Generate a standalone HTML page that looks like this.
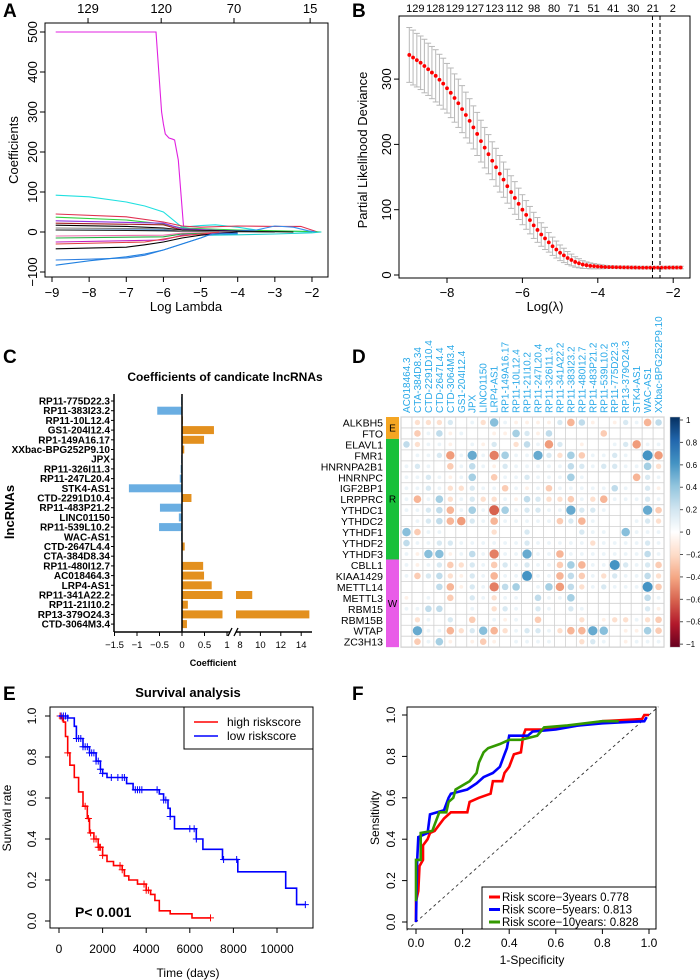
<!DOCTYPE html>
<html><head><meta charset="utf-8"><style>
html,body{margin:0;padding:0;background:#fff;}
svg{display:block;font-family:"Liberation Sans",Arial,sans-serif;}
</style></head><body>
<svg id="fig" width="700" height="980" viewBox="0 0 700 980" xmlns="http://www.w3.org/2000/svg">
<rect width="700" height="980" fill="#fff"/>
<text x="3" y="17" font-size="19" font-weight="bold">A</text>
<text x="352" y="17" font-size="19" font-weight="bold">B</text>
<text x="3" y="363" font-size="19" font-weight="bold">C</text>
<text x="352" y="363" font-size="19" font-weight="bold">D</text>
<text x="3" y="700" font-size="19" font-weight="bold">E</text>
<text x="352" y="700" font-size="19" font-weight="bold">F</text>
<!-- A -->
<rect x="45" y="23" width="283" height="254" fill="none" stroke="#000"/>
<text x="186" y="311" font-size="13" text-anchor="middle">Log Lambda</text>
<text transform="translate(18,150) rotate(-90)" font-size="13" text-anchor="middle">Coefficients</text>
<!-- B -->
<rect x="399" y="16" width="291" height="262" fill="none" stroke="#000"/>
<text x="545" y="311" font-size="13" text-anchor="middle">Log(λ)</text>
<text transform="translate(367,150) rotate(-90)" font-size="13" text-anchor="middle">Partial Likelihood Deviance</text>
<!-- C -->
<text x="225" y="381" font-size="12" font-weight="bold" text-anchor="middle">Coefficients of candicate lncRNAs</text>
<text x="213" y="666" font-size="9" font-weight="bold" text-anchor="middle">Coefficient</text>
<text transform="translate(14,512) rotate(-90)" font-size="13" font-weight="bold" text-anchor="middle">lncRNAs</text>
<!-- E -->
<rect x="50" y="707" width="263" height="221" fill="none" stroke="#000"/>
<text x="188" y="697" font-size="13" font-weight="bold" text-anchor="middle">Survival analysis</text>
<text x="188" y="977" font-size="12" text-anchor="middle">Time (days)</text>
<text transform="translate(11,818) rotate(-90)" font-size="12" text-anchor="middle">Survival rate</text>
<text x="75" y="917" font-size="14" font-weight="bold">P&lt; 0.001</text>
<!-- F -->
<rect x="407" y="707" width="249" height="222" fill="none" stroke="#000"/>
<text x="532" y="964" font-size="12" text-anchor="middle">1-Specificity</text>
<text transform="translate(379,818) rotate(-90)" font-size="12" text-anchor="middle">Sensitivity</text>
</svg>
<script>
// ---------- Panel A data ----------
const aTopLabels=["129","120","70","15"];
const aTopLambda=[-8.03,-6.06,-4.1,-2.05];
const aXTicks=[-9,-8,-7,-6,-5,-4,-3,-2];
const aYTicks=[-100,0,100,200,300,400,500];
const aColors=["#e020e0","#20e0e0","#e03050","#30d040","#3090f0","#9030e0","#a02020","#000000","#202020","#808080","#f070b0","#20b040","#c020c0","#e04040","#000000","#3080e0","#2080e0","#20d0d0"];
const aLineX=[
[-8.9,-6.2,-6.05,-6.0,-5.95,-5.85,-5.75,-5.7,-5.6,-5.45],
[-8.9,-8,-7,-6.5,-6,-5.5,-5,-4.6,-4,-3.5,-3,-2.5,-2],
[-8.9,-7,-6,-5.5,-5,-4,-3,-2.3,-1.85],
[-8.9,-7,-6,-5.5,-4,-2,-1.75],
[-8.9,-6,-5,-4,-3.5,-3,-2.5,-2.1,-1.9],
[-8.9,-6,-5.5,-4],
[-8.9,-6,-5.5,-4],
[-8.9,-7,-6,-5.5,-4,-2.5],
[-8.9,-7,-6,-5.5,-4.5,-3],
[-8.9,-6,-5.5,-4],
[-8.9,-6,-5.5,-4],
[-8.9,-6,-5.5,-4],
[-8.9,-6,-5.5,-4],
[-8.9,-6.5,-5.5,-4.5],
[-8.9,-7,-6.5,-6,-5.5,-5,-4],
[-8.9,-8,-7,-6.5,-6,-5.5,-5,-4.7,-4],
[-8.9,-8,-7,-6.5,-6,-5.5,-5,-4.8,-4],
[-4.7,-4,-3,-2,-1.75]];
const aLineY=[
[500,500,300,270,245,235,232,230,180,5],
[92,88,75,65,50,12,16,18,12,5,2,1,0],
[45,38,25,15,12,15,14,14,0],
[37,30,20,10,5,1,0],
[5,5,4,3,5,15,12,3,0],
[28,22,8,2],
[22,18,5,1],
[17,14,10,5,2,0],
[5,4,3,2,1,0],
[10,8,3,0],
[-10,-8,-3,0],
[-15,-12,-5,0],
[-25,-20,-8,0],
[-30,-25,-10,0],
[-42,-38,-32,-25,-15,-8,0],
[-70,-68,-65,-58,-45,-30,-15,-5,-3],
[-83,-72,-62,-55,-45,-30,-15,-8,-5],
[-8,-7,-5,-2,0]];

// ---------- Panel B data ----------
const bTopLabels=["129","128","129","127","123","112","98","80","71","51","41","30","21","2"];
const bTopLambda=[-8.84,-8.31,-7.79,-7.26,-6.74,-6.21,-5.69,-5.16,-4.64,-4.11,-3.59,-3.06,-2.54,-2.01];
const bXTicks=[-8,-6,-4,-2];
const bYTicks=[0,100,200,300];
const bLambdaStart=-9.0, bLambdaStep=0.1;
const bMean=[337,333,329,325,320,315,310,305,299,293,286,279,271,263,254,245,236,226,216,205,195,185,175,165,155,146,136,127,118,109,100,92,84,76,69,62,56,50,44,39,34,30,26,23,20,18,16,15,14,13.5,13,12.6,12.3,12.1,12,11.9,11.8,11.7,11.6,11.5,11.4,11.3,11.2,11.2,11.2,11.2,11.3,11.3,11.3,11.4,11.4,11.4,11.4];
const bSE=[42,42,41,41,41,40,40,40,39,39,38,38,37,37,36,35,34,33,33,32,31,30,29,29,28,27,26,25,25,24,23,22,21,20,19,18,17,15,14,13,12,11,10,9,8,7,6,5,4.5,4,3.5,3,2.5,2.2,2,2,2,2,2,2,2,2,2,2,2,2,2,2,2,2,2,2,2];
const bVLines=[-2.55,-2.35];

// ---------- Panel C data ----------
const cNames=["RP11-775D22.3","RP11-383I23.2","RP11-10L12.4","GS1-204I12.4","RP1-149A16.17","XXbac-BPG252P9.10","JPX","RP11-326I11.3","RP11-247L20.4","STK4-AS1","CTD-2291D10.4","RP11-483P21.2","LINC01150","RP11-539L10.2","WAC-AS1","CTD-2647L4.4","CTA-384D8.34","RP11-480I12.7","AC018464.3","LRP4-AS1","RP11-341A22.2","RP11-21I10.2","RP13-379O24.3","CTD-3064M3.4"];
const cValues=[-0.02,-0.55,0.02,0.71,0.49,0.05,-0.02,-0.03,-0.05,-1.18,0.21,-0.49,-0.07,-0.51,-0.02,0.06,-0.01,0.47,0.49,0.66,9.2,0.13,14.8,0.11];
const cTicksLeft=[-1.5,-1,-0.5,0,0.5,1];
const cTicksRight=[8,10,12,14];

// ---------- Panel D data ----------
const dCols=["AC018464.3","CTA-384D8.34","CTD-2291D10.4","CTD-2647L4.4","CTD-3064M3.4","GS1-204I12.4","JPX","LINC01150","LRP4-AS1","RP1-149A16.17","RP11-10L12.4","RP11-21I10.2","RP11-247L20.4","RP11-326I11.3","RP11-341A22.2","RP11-383I23.2","RP11-480I12.7","RP11-483P21.2","RP11-539L10.2","RP11-775D22.3","RP13-379O24.3","STK4-AS1","WAC-AS1","XXbac-BPG252P9.10"];
const dRows=["ALKBH5","FTO","ELAVL1","FMR1","HNRNPA2B1","HNRNPC","IGF2BP1","LRPPRC","YTHDC1","YTHDC2","YTHDF1","YTHDF2","YTHDF3","CBLL1","KIAA1429","METTL14","METTL3","RBM15","RBM15B","WTAP","ZC3H13"];
const dGroups=["E","R","W"];
const dGroupSizes=[2,11,8];
const dCorr=[
[0,-.1,-.1,-.1,.1,0,.05,-.1,.25,.05,-.05,-.05,-.05,-.05,.1,-.2,.15,-.05,0,-.05,.1,.05,-.2,.15],
[0,-.15,.05,.15,-.05,.05,0,0,-.05,-.05,.2,.1,-.05,.15,0,0,0,0,-.15,0,0,0,0,0],
[.15,-.1,.05,.05,-.05,0,.05,-.05,.1,0,-.1,.15,.05,-.25,.1,0,-.05,0,0,.05,.1,-.25,.05,.05],
[0,.05,.05,.1,-.25,.05,.3,.05,-.3,.2,.05,.05,.3,.1,-.1,.2,-.15,.05,.05,.1,.05,0,.35,-.25],
[.05,.1,.05,0,-.15,.05,.15,.05,-.05,.1,.05,.05,.05,.05,.05,.15,.1,.05,.1,.1,.05,.05,.2,-.1],
[.05,.05,.1,.05,-.05,.05,.2,0,-.15,.05,.05,.1,.05,.05,.05,.2,.05,0,0,0,0,-.2,.1,.05],
[.05,.05,.1,.05,-.1,-.1,.1,.05,.05,-.15,.05,-.05,.05,-.15,.05,.05,.05,.05,.05,.15,.05,0,.1,-.05],
[.05,-.2,.05,.2,-.1,.05,.1,-.1,-.1,.05,-.05,.15,.1,-.1,-.1,-.15,.05,-.1,-.2,.05,.05,.05,.1,.05],
[.05,.05,.1,.15,-.2,.05,.2,.05,-.35,.2,.05,.1,.1,.05,.05,.3,.1,.1,.05,0,0,0,.3,-.15],
[0,.05,.1,.15,-.2,-.25,.1,.05,-.2,.05,.05,.05,.05,.05,-.15,.1,-.2,.05,0,0,0,.05,.1,-.1],
[.25,-.15,.05,.05,0,0,0,0,-.1,0,0,.1,0,0,0,0,.1,.05,.05,0,.25,.05,.05,.05],
[.15,.05,.05,.1,.1,.05,.05,.05,.05,.05,.05,.1,.05,.05,.05,.05,.05,-.1,.05,.05,.05,.05,.1,.05],
[.05,-.05,.25,.25,-.05,.05,.15,.05,-.3,.05,.05,.3,.05,.05,-.2,.05,.05,.05,.05,.05,.05,.05,.15,.05],
[.05,-.05,.05,.1,-.15,-.1,.1,.05,-.15,.1,.05,.1,.05,.05,-.15,.2,-.2,.05,.05,.35,.1,.05,.1,-.15],
[.05,-.15,.1,.15,-.1,-.05,.1,.05,-.2,.05,.05,.35,.05,.05,-.2,.15,-.15,.05,-.1,.1,.05,.05,.15,-.1],
[0,0,0,.15,-.2,-.05,.1,.05,-.3,.15,.2,0,.05,.2,-.25,.15,-.1,.05,.1,.05,.05,.05,.35,-.15],
[-.05,0,.05,0,-.15,0,.1,.05,-.1,.05,.05,0,.15,.05,.05,.2,0,0,0,0,0,0,.15,.05],
[.05,.05,.15,.15,0,0,.05,0,-.1,.1,.05,0,.1,.05,0,.1,.05,0,0,0,0,0,.1,-.05],
[0,-.1,.05,0,.1,0,-.15,0,.05,-.05,.05,0,-.15,0,0,0,-.1,0,-.05,-.1,-.1,.05,-.1,-.15],
[0,.3,.05,.05,-.2,-.1,.1,.25,-.2,-.1,.05,.1,.1,.05,-.1,-.2,-.2,.3,.25,0,-.05,-.05,.2,-.15],
[0,-.15,.05,.2,-.05,0,-.05,-.15,-.05,0,.05,.05,.05,.05,0,0,-.1,.1,.05,0,-.05,.05,.05,.05]];
const dBarTicks=[1,0.8,0.6,0.4,0.2,0,-0.2,-0.4,-0.6,-0.8,-1];

// ---------- Panel E data ----------
const eHighT=[0,100,200,300,400,500,700,900,1100,1300,1400,1600,1800,2000,2200,2500,2900,3000,3200,3600,4000,4200,4400,4600,5100,6100,6950];
const eHighS=[1,0.99,0.97,0.9,0.82,0.76,0.7,0.63,0.56,0.5,0.43,0.4,0.36,0.32,0.29,0.27,0.25,0.22,0.2,0.18,0.15,0.13,0.1,0.05,0.035,0.015,0.015];
const eLowT=[0,400,700,800,1100,1400,1700,1900,2000,2200,3100,3400,4600,4800,5000,5100,5300,6300,6600,7500,8200,10400,10900,11300];
const eLowS=[1,0.99,0.95,0.89,0.85,0.82,0.78,0.74,0.72,0.7,0.67,0.64,0.62,0.59,0.55,0.51,0.45,0.4,0.35,0.3,0.24,0.16,0.08,0.08];
const eHighCens=[50,150,400,1200,1350,1450,1600,1700,1800,1850,1900,2000,2800,2900,3900,4000,4100,6950];
const eLowCens=[100,200,300,400,800,900,1000,1100,1200,1300,1400,1500,1600,1700,1800,1900,2000,2400,2700,2900,3000,3500,3600,3700,3800,4500,4800,4900,5100,6000,6200,6300,7550,8150,11300];
const eXTicks=[0,2000,4000,6000,8000,10000];
const eYTicks=[0,0.2,0.4,0.6,0.8,1.0];

// ---------- Panel F data ----------
const fRedX=[0,0,0.01,0.015,0.03,0.03,0.05,0.06,0.08,0.1,0.12,0.15,0.22,0.23,0.27,0.32,0.33,0.37,0.38,0.4,0.42,0.45,0.46,0.47,0.55,0.7,0.8,0.97,0.98,1];
const fRedY=[0,0.1,0.15,0.27,0.3,0.37,0.4,0.43,0.44,0.47,0.5,0.53,0.53,0.58,0.6,0.62,0.68,0.68,0.72,0.75,0.81,0.82,0.9,0.93,0.93,0.95,0.97,0.98,1,1];
const fBlueX=[0,0.005,0.01,0.05,0.06,0.12,0.14,0.15,0.22,0.26,0.29,0.33,0.36,0.38,0.39,0.4,0.48,0.5,0.6,0.7,0.8,0.98,0.99];
const fBlueY=[0,0.3,0.41,0.43,0.52,0.54,0.6,0.62,0.64,0.67,0.7,0.72,0.75,0.81,0.84,0.9,0.9,0.92,0.93,0.95,0.96,0.97,0.99];
const fGreenX=[0,0,0.02,0.02,0.07,0.08,0.1,0.13,0.14,0.16,0.17,0.23,0.26,0.27,0.29,0.31,0.36,0.4,0.45,0.52,0.55,0.65,0.8,0.87];
const fGreenY=[0.1,0.3,0.3,0.43,0.44,0.47,0.53,0.53,0.58,0.6,0.64,0.68,0.72,0.77,0.82,0.84,0.86,0.88,0.88,0.9,0.94,0.95,0.97,0.97];
const fLegend=["Risk score−3years 0.778","Risk score−5years:  0.813","Risk score−10years:  0.828"];
const fTicks=[0,0.2,0.4,0.6,0.8,1.0];

// ---------- helpers ----------
const NS="http://www.w3.org/2000/svg";
const svg=document.getElementById("fig");
function mk(tag,attrs,parent){const e=document.createElementNS(NS,tag);for(const k in attrs)e.setAttribute(k,attrs[k]);(parent||svg).appendChild(e);return e;}
function tx(s,x,y,attrs){const e=mk("text",Object.assign({x:x,y:y},attrs||{}));e.textContent=s;return e;}
function fmt(v){return String(v).replace("-","−");}

// ---------- Panel A ----------
const ax=v=>52+(v+9)*37.14, ay=v=>232-v*0.4;
aLineX.forEach((xs,i)=>{
  const d=xs.map((x,j)=>(j?"L":"M")+ax(x).toFixed(1)+","+ay(aLineY[i][j]).toFixed(1)).join("");
  const p=mk("path",{d:d,fill:"none",stroke:aColors[i],"stroke-width":1.1});
  
  
});
aXTicks.forEach(v=>{
  mk("line",{x1:ax(v),x2:ax(v),y1:277,y2:282,stroke:"#000"});
  const t=tx(fmt(v),ax(v),297,{"font-size":13,"text-anchor":"middle"});
  
  
});
aYTicks.forEach(v=>{
  mk("line",{x1:40,x2:45,y1:ay(v),y2:ay(v),stroke:"#000"});
  const t=tx(fmt(v),0,0,{"font-size":13,"text-anchor":"middle",transform:`translate(37,${ay(v)}) rotate(-90)`});
  
  
});
aTopLabels.forEach((s,i)=>{
  mk("line",{x1:ax(aTopLambda[i]),x2:ax(aTopLambda[i]),y1:18,y2:23,stroke:"#000"});
  const t=tx(s,ax(aTopLambda[i]),13,{"font-size":13,"text-anchor":"middle"});
  
  
});

// ---------- Panel B ----------
const bx=v=>447+(v+8)*37.7, by=v=>275-v*0.653;
bMean.forEach((m,i)=>{
  const l=bLambdaStart+i*bLambdaStep, x=bx(l);
  const g=mk("g",{});
  
  
  mk("line",{x1:x,x2:x,y1:by(m+bSE[i]),y2:by(m-bSE[i]),stroke:"#b8b8b8","stroke-width":1},g);
  mk("line",{x1:x-3,x2:x+3,y1:by(m+bSE[i]),y2:by(m+bSE[i]),stroke:"#b8b8b8"},g);
  mk("line",{x1:x-3,x2:x+3,y1:by(m-bSE[i]),y2:by(m-bSE[i]),stroke:"#b8b8b8"},g);
  mk("circle",{cx:x,cy:by(m),r:1.9,fill:"#ff0000"},g);
});
bVLines.forEach(v=>{
  const l=mk("line",{x1:bx(v),x2:bx(v),y1:16,y2:278,stroke:"#000","stroke-dasharray":"4,3"});
  
  
});
bXTicks.forEach(v=>{
  mk("line",{x1:bx(v),x2:bx(v),y1:278,y2:283,stroke:"#000"});
  const t=tx(fmt(v),bx(v),297,{"font-size":13,"text-anchor":"middle"});
  
  
});
bYTicks.forEach(v=>{
  mk("line",{x1:394,x2:399,y1:by(v),y2:by(v),stroke:"#000"});
  const t=tx(String(v),0,0,{"font-size":13,"text-anchor":"middle",transform:`translate(391,${by(v)}) rotate(-90)`});
  
  
});
bTopLabels.forEach((s,i)=>{
  const t=tx(s,bx(bTopLambda[i]),12,{"font-size":11,"text-anchor":"middle"});
  
  
});

// ---------- Panel C ----------
const cy=i=>401+i*9.7, cxL=v=>182+v*45, cxR=v=>240+(v-8)*10.2;
cNames.forEach((n,i)=>{
  const t=tx(n,110,cy(i)+3.5,{"font-size":10,"font-weight":"bold","text-anchor":"end"});
  
  
  mk("line",{x1:111,x2:114,y1:cy(i),y2:cy(i),stroke:"#000"});
  const v=cValues[i], g=mk("g",{});
  
  
  if(v<0){mk("rect",{x:cxL(v),y:cy(i)-4,width:cxL(0)-cxL(v),height:8,fill:"#6aaee2"},g);}
  else if(v<=1){mk("rect",{x:cxL(0),y:cy(i)-4,width:cxL(v)-cxL(0),height:8,fill:"#e3901e"},g);}
  else{mk("rect",{x:cxL(0),y:cy(i)-4,width:cxL(0.9)-cxL(0),height:8,fill:"#e3901e"},g);
       mk("rect",{x:236,y:cy(i)-4,width:cxR(v)-236,height:8,fill:"#e3901e"},g);}
});
mk("line",{x1:114,x2:114,y1:394,y2:632,stroke:"#000","stroke-width":1.5});
mk("line",{x1:182,x2:182,y1:394,y2:632,stroke:"#000","stroke-width":1.5});
mk("line",{x1:114,x2:230,y1:632,y2:632,stroke:"#000","stroke-width":1.5});
mk("line",{x1:236,x2:312,y1:632,y2:632,stroke:"#000","stroke-width":1.5});
mk("line",{x1:228,x2:232,y1:636,y2:628,stroke:"#000","stroke-width":1.3});
mk("line",{x1:234,x2:238,y1:636,y2:628,stroke:"#000","stroke-width":1.3});
cTicksLeft.forEach(v=>{
  mk("line",{x1:cxL(v),x2:cxL(v),y1:632,y2:636,stroke:"#000"});
  const t=tx(fmt(v),cxL(v),648,{"font-size":9.5,"text-anchor":"middle"});
  
  
});
cTicksRight.forEach(v=>{
  mk("line",{x1:cxR(v),x2:cxR(v),y1:632,y2:636,stroke:"#000"});
  const t=tx(String(v),cxR(v),648,{"font-size":9.5,"text-anchor":"middle"});
  
  
});

// ---------- Panel D ----------
const dx0=401,dy0=417,cs=10.96;
const stops=[[1,"#053061"],[0.8,"#2166ac"],[0.6,"#4393c3"],[0.4,"#92c5de"],[0.2,"#d1e5f0"],[0,"#ffffff"],[-0.2,"#fddbc7"],[-0.4,"#f4a582"],[-0.6,"#d6604d"],[-0.8,"#b2182b"],[-1,"#67001f"]];
function hex(h){return [1,3,5].map(i=>parseInt(h.substr(i,2),16));}
function colr(r){r=Math.max(-1,Math.min(1,r));for(let i=0;i<stops.length-1;i++){const a=stops[i],b=stops[i+1];if(r<=a[0]&&r>=b[0]){const t=(a[0]-r)/(a[0]-b[0]);const ca=hex(a[1]),cb=hex(b[1]);return "rgb("+ca.map((c,k)=>Math.round(c+(cb[k]-c)*t)).join(",")+")";}}return "#fff";}
mk("rect",{x:dx0,y:dy0,width:cs*24,height:cs*21,fill:"#fff",stroke:"#bbb"});
for(let i=0;i<=24;i++)mk("line",{x1:dx0+i*cs,x2:dx0+i*cs,y1:dy0,y2:dy0+21*cs,stroke:"#d0d0d0","stroke-width":0.8});
for(let j=0;j<=21;j++)mk("line",{x1:dx0,x2:dx0+24*cs,y1:dy0+j*cs,y2:dy0+j*cs,stroke:"#d0d0d0","stroke-width":0.8});
dCorr.forEach((row,j)=>row.forEach((r,i)=>{
  if(r===0)return;
  const c=mk("circle",{cx:dx0+(i+0.5)*cs,cy:dy0+(j+0.5)*cs,r:Math.min(5,8.5*Math.sqrt(Math.abs(r))),fill:colr(r*1.7)});
  
  
}));
dRows.forEach((n,j)=>{
  const t=tx(n,383,dy0+(j+0.5)*cs+4,{"font-size":10.5,"text-anchor":"end"});
  
  
});
dCols.forEach((n,i)=>{
  const t=tx(n,0,0,{"font-size":10,fill:"#29a9e8",transform:`translate(${dx0+(i+0.5)*cs+3.5},${dy0-4}) rotate(-90)`});
  
  
});
const gCol=["#f5a623","#18c03a","#e95ce8"];
let acc=0;
dGroups.forEach((g,k)=>{
  const r=mk("rect",{x:386,y:dy0+acc*cs,width:13,height:dGroupSizes[k]*cs,fill:gCol[k]});
  
  
  const t=tx(g,392.5,dy0+(acc+dGroupSizes[k]/2)*cs+3.5,{"font-size":10,"text-anchor":"middle"});
  
  
  acc+=dGroupSizes[k];
});
const defs=mk("defs",{});
const lg=mk("linearGradient",{id:"cbar",x1:0,y1:0,x2:0,y2:1},defs);
stops.forEach(s=>mk("stop",{offset:((1-s[0])/2*100)+"%","stop-color":s[1]},lg));
const cb=mk("rect",{x:670,y:dy0,width:10,height:21*cs,fill:"url(#cbar)",stroke:"#ccc","stroke-width":0.5});


dBarTicks.forEach(v=>{
  const y=dy0+3+(1-v)/2*(21*cs-6);
  mk("line",{x1:680,x2:683,y1:y,y2:y,stroke:"#555"});
  const t=tx(fmt(v),686,y+3,{"font-size":8});
  
  
});

// ---------- Panel E ----------
const ex=t=>59+t*0.0218, ey=s=>921-s*205;
function stepPath(T,S){let d="M"+ex(T[0])+","+ey(S[0]);for(let i=1;i<T.length;i++){d+="H"+ex(T[i]).toFixed(1)+"V"+ey(S[i]).toFixed(1);}return d;}
function survAt(T,S,t){let s=S[0];for(let i=0;i<T.length;i++){if(T[i]<=t)s=S[i];}return s;}
[[eHighT,eHighS,eHighCens,"#ff0000","km-curve-high-risk"],[eLowT,eLowS,eLowCens,"#0000ff","km-curve-low-risk"]].forEach(c=>{
  const g=mk("g",{});
  
  
  mk("path",{d:stepPath(c[0],c[1]),fill:"none",stroke:c[3],"stroke-width":1.6},g);
  c[2].forEach(t=>{const x=ex(t),y=ey(survAt(c[0],c[1],t));mk("path",{d:`M${x-3.5},${y}h7M${x},${y-3.5}v7`,stroke:c[3],"stroke-width":1},g);});
});
eXTicks.forEach(v=>{
  mk("line",{x1:ex(v),x2:ex(v),y1:928,y2:933,stroke:"#000"});
  const t=tx(String(v),ex(v),953,{"font-size":12,"text-anchor":"middle"});
  
  
});
eYTicks.forEach(v=>{
  mk("line",{x1:45,x2:50,y1:ey(v),y2:ey(v),stroke:"#000"});
  const t=tx(v.toFixed(1),0,0,{"font-size":12,"text-anchor":"middle",transform:`translate(36,${ey(v)}) rotate(-90)`});
  
  
});
const leg=mk("g",{});


mk("rect",{x:184,y:707,width:129,height:42,fill:"#fff",stroke:"#000"},leg);
mk("line",{x1:194,x2:218,y1:722,y2:722,stroke:"#ff0000","stroke-width":1.6},leg);
mk("line",{x1:194,x2:218,y1:736,y2:736,stroke:"#0000ff","stroke-width":1.6},leg);
const l1=tx("high riskscore",227,726,{"font-size":12});leg.appendChild(l1);
const l2=tx("low riskscore",227,740,{"font-size":12});leg.appendChild(l2);

// ---------- Panel F ----------
const fx=v=>416+v*233, fy=v=>922-v*207;
const dg=mk("line",{x1:fx(-0.04),y1:fy(-0.04),x2:fx(1.04),y2:fy(1.04),stroke:"#333","stroke-dasharray":"3,3","stroke-width":0.9});


[[fRedX,fRedY,"#ff0000","roc-curve-3-years"],[fBlueX,fBlueY,"#0000ff","roc-curve-5-years"],[fGreenX,fGreenY,"#339900","roc-curve-10-years"]].forEach(c=>{
  let d="";c[0].forEach((x,i)=>{d+=(i?"L":"M")+fx(x).toFixed(1)+","+fy(c[1][i]).toFixed(1);});
  const p=mk("path",{d:d,fill:"none",stroke:c[2],"stroke-width":2.6,"stroke-linejoin":"miter"});
  
  
});
fTicks.forEach(v=>{
  mk("line",{x1:fx(v),x2:fx(v),y1:929,y2:934,stroke:"#000"});
  const t=tx(v.toFixed(1),fx(v),947,{"font-size":12,"text-anchor":"middle"});
  
  
  mk("line",{x1:402,x2:407,y1:fy(v),y2:fy(v),stroke:"#000"});
  const t2=tx(v.toFixed(1),0,0,{"font-size":12,"text-anchor":"middle",transform:`translate(395,${fy(v)}) rotate(-90)`});
  
  
});
const fl=mk("g",{});


mk("rect",{x:482,y:887,width:174,height:42,fill:"#fff",stroke:"#000"},fl);
["#ff0000","#0000ff","#339900"].forEach((c,i)=>{
  mk("line",{x1:489,x2:500,y1:897+i*12.5,y2:897+i*12.5,stroke:c,"stroke-width":3},fl);
  const t=tx(fLegend[i],502,901+i*12.5,{"font-size":11.5});fl.appendChild(t);
});
</script>
</body></html>
